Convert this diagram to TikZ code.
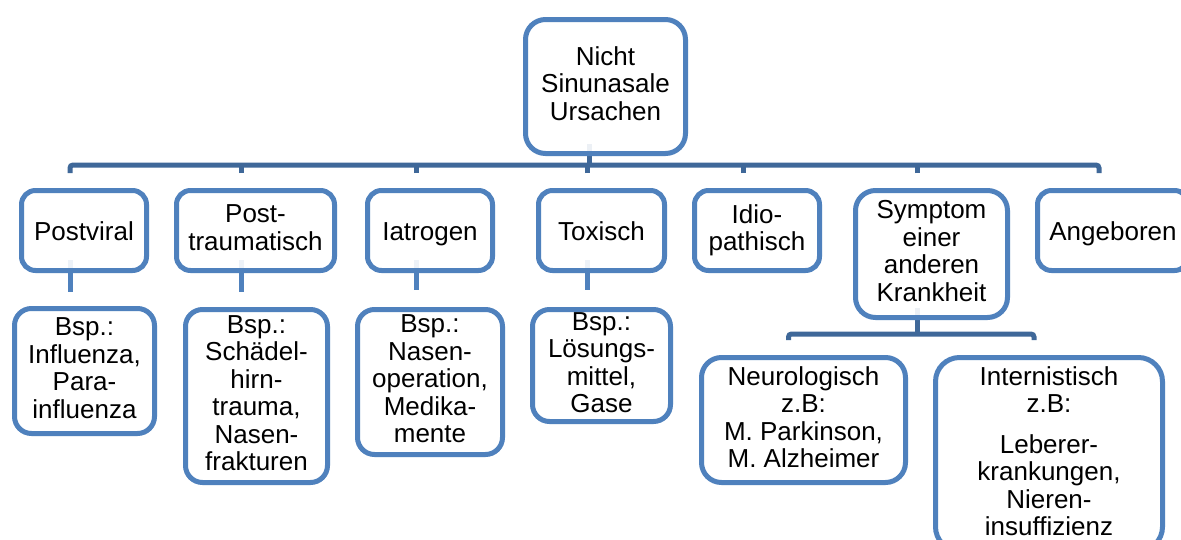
\documentclass[tikz,border=0pt]{standalone}
\usepackage{fontspec}
\setmainfont{Liberation Sans}
\usetikzlibrary{calc,backgrounds}
\definecolor{boxblue}{HTML}{4F81BD}
\definecolor{barblue}{HTML}{3F6899}
% struts that even out the first-line height and last-line depth
\newcommand{\topstrut}{\rule{0pt}{25pt}}
\newcommand{\botstrut}{\rule[-6pt]{0pt}{6pt}}
\tikzset{
  box/.style={draw=boxblue, line width=5pt, fill=white, fill opacity=0.9,
    text opacity=1, rounded corners=#1, align=center, inner sep=0pt,
    font=\fontsize{26}{27.5}\selectfont,
    execute at begin node=\topstrut, execute at end node=\botstrut},
  box/.default=14pt,
  hconn/.style={draw=barblue, line width=5pt, rounded corners=3pt},
  cconn/.style={draw=boxblue, line width=5pt}
}
\begin{document}
\begin{tikzpicture}[x=1pt,y=-1pt]
\useasboundingbox (0,0) rectangle (1181,539);

% root
\node[box=20pt, minimum width=160, minimum height=134] (top) at (605.5,86.5)
  {Nicht\\Sinunasale\\Ursachen};

% first level
\node[box, minimum width=125, minimum height=80] (pv) at (84,230.5) {Postviral};
\node[box, minimum width=158, minimum height=80] (pt) at (255.5,230.5) {Post-\\traumatisch};
\node[box, minimum width=125, minimum height=80] (ia) at (430,230.5) {Iatrogen};
\node[box, minimum width=126, minimum height=80] (tx) at (601.5,230.5) {Toxisch};
\node[box, minimum width=125, minimum height=80] (id) at (757,230.5) {Idio-\\pathisch};
\node[box=20pt, minimum width=152, minimum height=127] (sy) at (931.5,254)
  {Symptom\\einer\\anderen\\Krankheit};
\node[box, minimum width=151, minimum height=80] (ang) at (1113,230.5) {Angeboren};

% examples
\node[box=17pt, minimum width=140, minimum height=125] (pvb) at (84.5,371)
  {Bsp.:\\Influenza,\\Para-\\influenza};
\node[box=17pt, minimum width=142, minimum height=173] (ptb) at (256.5,396)
  {Bsp.:\\Schädel-\\hirn-\\trauma,\\Nasen-\\frakturen};
\node[box=17pt, minimum width=145, minimum height=145] (iab) at (430,382)
  {Bsp.:\\Nasen-\\operation,\\Medika-\\mente};
\node[box=17pt, minimum width=138, minimum height=112] (txb) at (601.5,365.5)
  {Bsp.:\\Lösungs-\\mittel,\\Gase};
\node[box=20pt, minimum width=204, minimum height=125] (neu) at (803.5,420)
  {Neurologisch\\z.B:\\M. Parkinson,\\M. Alzheimer};
\node[box=24pt, minimum width=227, inner ysep=9pt, anchor=north] (int) at (1049,355)
  {Internistisch\\z.B:\\[13pt]Leberer-\\krankungen,\\Nieren-\\insuffizienz};

\begin{scope}[on background layer]
  \fill[white] (0,0) rectangle (1181,539);
  % root to first level
  \draw[hconn] ($(top.south)+(-16,-12)$) -- ($(top.south)+(-16,9)$);
  \draw[hconn] ($(pv.north)+(-14,-15)$) |- ($(ang.north)+(-14,-23)$)
    -- ($(ang.north)+(-14,-15)$);
  \foreach \n in {pt,ia,tx,id,sy}
    \draw[hconn] ($(\n.north)+(-14,-15)$) -- ($(\n.north)+(-14,-24)$);
  % first level to examples
  \draw[cconn] ($(pv.south)+(-14,-13)$) -- ($(pv.south)+(-14,19)$);
  \draw[cconn] ($(pt.south)+(-14,-13)$) -- ($(pt.south)+(-14,19)$);
  \draw[cconn] ($(ia.south)+(-14,-13)$) -- ($(ia.south)+(-14,17)$);
  \draw[cconn] ($(tx.south)+(-14,-13)$) -- ($(tx.south)+(-14,17)$);
  % symptom branch
  \draw[hconn] ($(sy.south)+(-14,-12)$) -- ($(sy.south)+(-14,14)$);
  \draw[hconn] ($(neu.north)+(-15,-15)$) |- ($(int.north)+(-15,-21)$)
    -- ($(int.north)+(-15,-15)$);
\end{scope}
\end{tikzpicture}
\end{document}
